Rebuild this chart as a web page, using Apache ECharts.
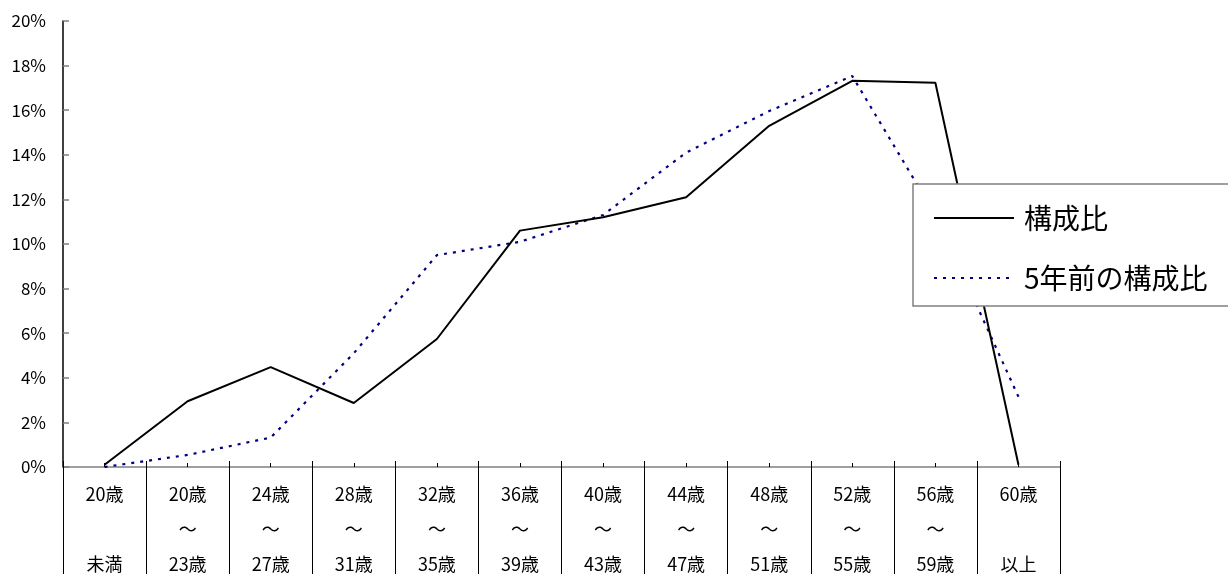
<!DOCTYPE html>
<html>
<head>
<meta charset="utf-8">
<script src="https://cdn.jsdelivr.net/npm/echarts@6/dist/echarts.min.js"></script>
<style>html,body{margin:0;padding:0;background:#fff;}#c{width:1228px;height:574px;}</style>
</head>
<body>
<div id="c"></div>
<script>
const categories = ['20歳\n\n未満','20歳\n～\n23歳','24歳\n～\n27歳','28歳\n～\n31歳','32歳\n～\n35歳','36歳\n～\n39歳','40歳\n～\n43歳','44歳\n～\n47歳','48歳\n～\n51歳','52歳\n～\n55歳','56歳\n～\n59歳','60歳\n\n以上'];
const seriesNames = ['構成比','5年前の構成比'];
const ratioNow = [0.1, 2.95, 4.48, 2.87, 5.74, 10.6, 11.2, 12.1, 15.3, 17.32, 17.23, 0.1];
const ratio5yAgo = [0.0, 0.54, 1.32, 5.1, 9.5, 10.1, 11.3, 14.1, 15.96, 17.53, 11.3, 3.15];
const yTicks = [0, 2, 4, 6, 8, 10, 12, 14, 16, 18, 20];

const FONT = '"Noto Sans CJK JP", "Noto Sans", sans-serif';
const chart = echarts.init(document.getElementById('c'));
const baseX = {
  type: 'category', data: categories, boundaryGap: true, position: 'bottom',
  axisLine: { show: false }, axisLabel: { show: false }, splitLine: { show: false }
};
chart.setOption({
  animation: false,
  backgroundColor: '#fff',
  grid: { left: 63, right: 168, top: 21, bottom: 107, containLabel: false, outerBoundsMode: 'none' },
  legend: {
    data: seriesNames,
    orient: 'vertical',
    left: 913, top: 184,
    padding: [20, 60, 14, 20],
    itemGap: 32,
    itemWidth: 80, itemHeight: 26,
    backgroundColor: '#fff',
    borderColor: '#808080', borderWidth: 1.5,
    itemStyle: { opacity: 0 },
    textStyle: { fontFamily: FONT, fontSize: 28, color: '#000', padding: [0, 0, 0, 5] }
  },
  xAxis: [
    Object.assign({}, baseX, {
      axisLine: { show: true, lineStyle: { color: '#808080', width: 1.5 } },
      axisTick: { show: true, inside: false, length: 107, lineStyle: { color: '#000', width: 1 } },
      axisLabel: { show: true, interval: 0, margin: 10, fontFamily: FONT, fontSize: 18, lineHeight: 35, color: '#000' }
    }),
    Object.assign({}, baseX, {
      axisTick: { show: true, inside: true, length: 6, lineStyle: { color: '#000', width: 1 } }
    }),
    Object.assign({}, baseX, {
      axisTick: { show: true, inside: true, alignWithLabel: true, length: 4, lineStyle: { color: '#000', width: 1 } }
    })
  ],
  yAxis: {
    type: 'value', min: yTicks[0], max: yTicks[yTicks.length - 1], interval: 2,
    axisLine: { show: true, lineStyle: { color: '#000', width: 1.5 } },
    axisTick: { show: true, inside: true, length: 6, lineStyle: { color: '#808080', width: 1.5 } },
    axisLabel: { formatter: v => v + '%', fontFamily: FONT, fontSize: 17, color: '#000', margin: 17 },
    splitLine: { show: false }
  },
  series: [
    { name: seriesNames[0], type: 'line', data: ratioNow, symbol: 'none', z: 3,
      itemStyle: { color: '#000' },
      lineStyle: { color: '#000', width: 2, type: 'solid' } },
    { name: seriesNames[1], type: 'line', data: ratio5yAgo, symbol: 'none', z: 2,
      itemStyle: { color: '#000080' },
      lineStyle: { color: '#000080', width: 2.2, type: [3, 6] } }
  ]
});
</script>
</body>
</html>
